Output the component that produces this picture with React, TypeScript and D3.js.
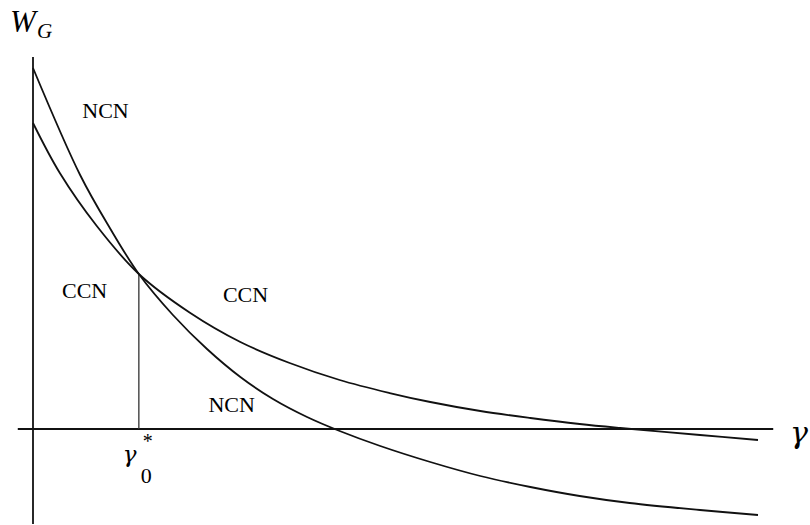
import React from "react";
import * as d3 from "d3";

// gamma values (x) and W_G values (y)
const ncnGamma = [0, 0.65, 1.06, 1.46, 1.93, 2.4, 2.86, 3.31, 3.78, 4.23, 4.79, 5.48, 6.17, 6.86, 7.54, 8.23, 9.2, 10];
const ncnW = [3.61, 2.54, 2.01, 1.55, 1.14, 0.8, 0.52, 0.3, 0.12, -0.02, -0.17, -0.33, -0.47, -0.58, -0.67, -0.74, -0.81, -0.86];
const ccnGamma = [0, 0.37, 0.88, 1.46, 2.17, 2.86, 3.54, 4.23, 4.92, 5.48, 6.17, 6.86, 7.54, 8.1, 9.2, 10];
const ccnW = [3.06, 2.56, 2.03, 1.55, 1.16, 0.87, 0.66, 0.49, 0.36, 0.27, 0.18, 0.11, 0.05, 0.01, -0.06, -0.11];
const gammaStar = 1.46;
const wStar = 1.55;
const xAxisExtent = [-0.21, 10.21];
const yAxisExtent = [-0.95, 3.72];
const regionLabels = [
  { text: "NCN", g: 0.68, w: 3.11 },
  { text: "CCN", g: 0.4, w: 1.31 },
  { text: "CCN", g: 2.62, w: 1.27 },
  { text: "NCN", g: 2.42, w: 0.17 },
];

export default function App() {
  const x = d3.scaleLinear().domain([0, 10]).range([33, 758]);
  const y = d3.scaleLinear().domain([-1, 4]).range([529, 29]);
  const line = d3
    .line<[number, number]>()
    .x((d) => x(d[0]))
    .y((d) => y(d[1]))
    .curve(d3.curveCatmullRom.alpha(0.5));
  const ncn = line(ncnGamma.map((g, i) => [g, ncnW[i]]));
  const ccn = line(ccnGamma.map((g, i) => [g, ccnW[i]]));
  const serif = "'Liberation Serif', 'Times New Roman', serif";
  const greek = "'DejaVu Serif', 'Liberation Serif', serif";
  const stroke = "#111";
  return (
    <svg
      width={810}
      height={525}
      style={{ position: "absolute", left: 0, top: 0, background: "#fff" }}
      fontFamily={serif}
    >
      {/* axes */}
      <line x1={x(0)} x2={x(0)} y1={y(yAxisExtent[1])} y2={y(yAxisExtent[0])} stroke={stroke} strokeWidth={1.8} />
      <line x1={x(xAxisExtent[0])} x2={x(xAxisExtent[1])} y1={y(0)} y2={y(0)} stroke={stroke} strokeWidth={1.8} />
      {/* gamma* vertical */}
      <line x1={x(gammaStar)} x2={x(gammaStar)} y1={y(0)} y2={y(wStar)} stroke="#333" strokeWidth={1.3} />
      {/* curves */}
      <path d={ncn ?? ""} fill="none" stroke={stroke} strokeWidth={1.8} />
      <path d={ccn ?? ""} fill="none" stroke={stroke} strokeWidth={1.8} />
      {/* region labels */}
      {regionLabels.map((l, i) => (
        <text key={i} x={x(l.g)} y={y(l.w)} fontSize={22} fill="#000">
          {l.text}
        </text>
      ))}
      {/* W_G */}
      <text x={10} y={32} fontSize={31} fontStyle="italic" fill="#000">W</text>
      <text x={37} y={38} fontSize={21} fontStyle="italic" fill="#000">G</text>
      {/* gamma axis label */}
      <text x={790} y={443} fontSize={30} fontStyle="italic" fontFamily={greek} fill="#000">γ</text>
      {/* gamma_0^* */}
      <text x={x(gammaStar) - 16} y={462} fontSize={23} fontStyle="italic" fontFamily={greek} fill="#000">γ</text>
      <text x={x(gammaStar) + 4} y={448} fontSize={20} fill="#000">*</text>
      <text x={x(gammaStar) + 2} y={483} fontSize={22} fill="#000">0</text>
    </svg>
  );
}
